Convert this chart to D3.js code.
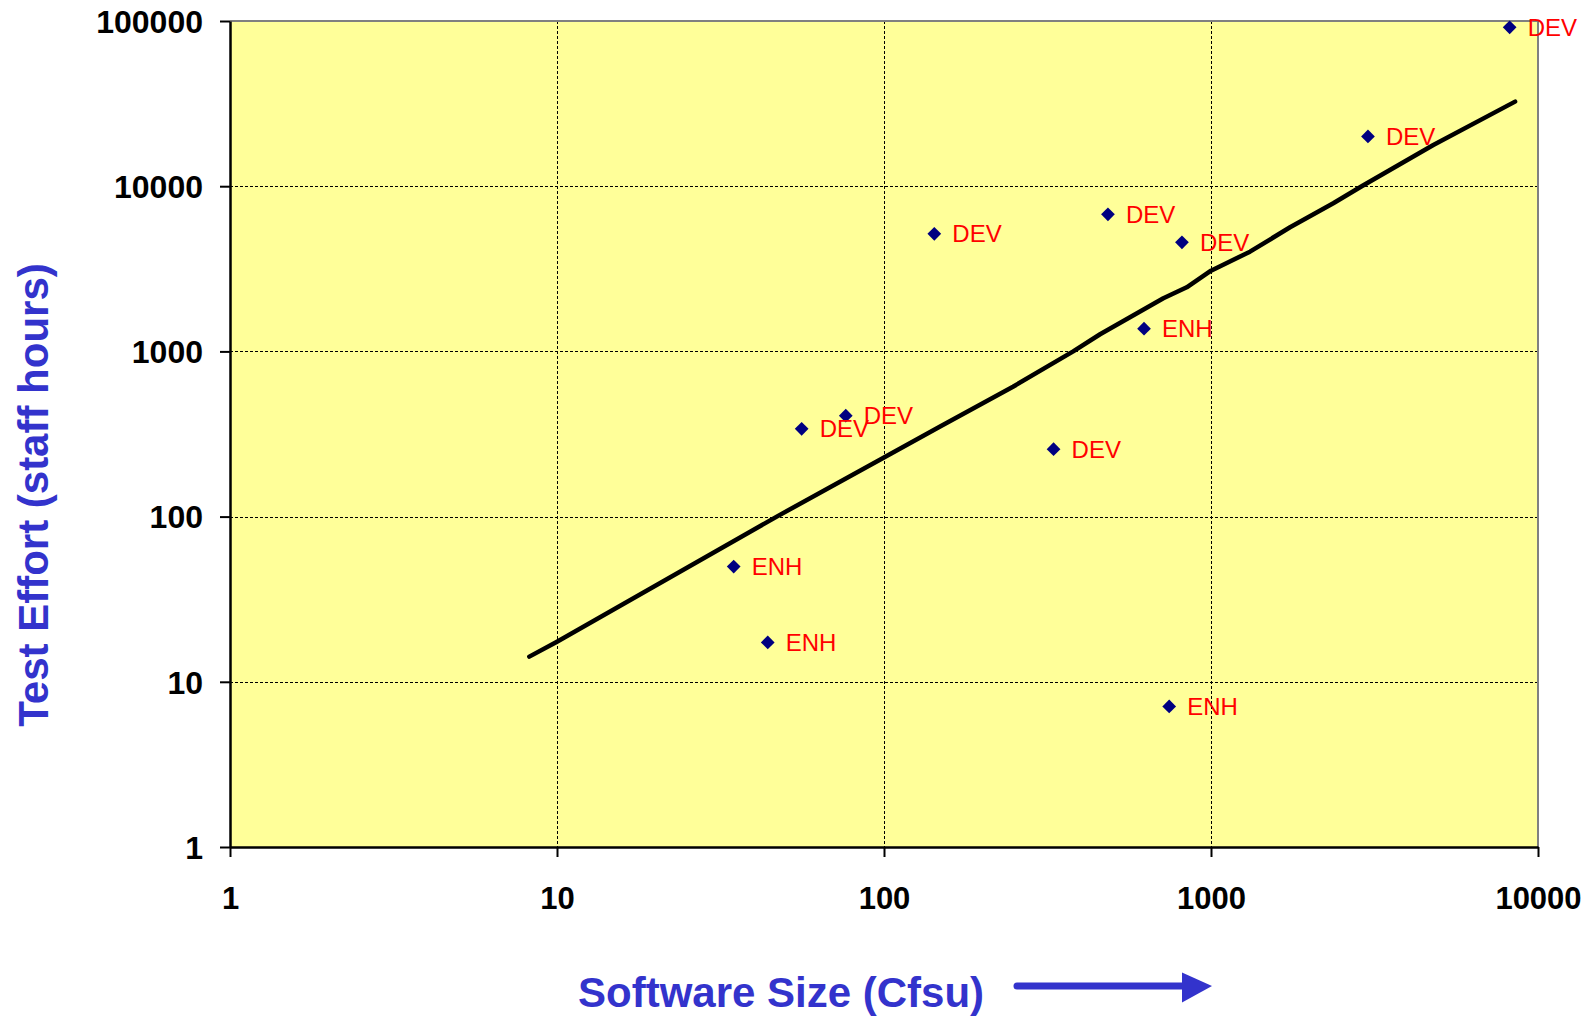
<!DOCTYPE html>
<html>
<head>
<meta charset="utf-8">
<script src="https://cdn.jsdelivr.net/npm/d3@7"></script>
<style>
  html, body { margin: 0; padding: 0; background: #ffffff; }
  svg { display: block; font-family: Arial, "Liberation Sans", sans-serif; }
</style>
</head>
<body>
<svg id="chart" width="1594" height="1016"></svg>
<script>
// Projects: software size (Cfsu) vs. test effort (staff hours)
const projectSizes   = [8190, 3020, 484, 815, 624, 142.5, 76.4, 56, 330, 34.7, 44.1, 745];
const projectEfforts = [91500, 20000, 6760, 4575, 1372, 5150, 408, 340, 256, 49.8, 17.3, 7.09];
const projectTypes   = ["DEV", "DEV", "DEV", "DEV", "ENH", "DEV", "DEV", "DEV", "DEV", "ENH", "ENH", "ENH"];

// Fitted trend curve, sampled along its length
const trendSizes   = [8.23, 10, 47, 100, 148, 248, 379, 458, 715, 843, 1000, 1316, 1745, 2366, 2890, 4785, 8510];
const trendEfforts = [14.2, 17.5, 100, 228, 350, 611, 1000, 1270, 2096, 2444, 3080, 4015, 5640, 7880, 10000, 17750, 32500];

// Axis ticks
const xTickValues = [1, 10, 100, 1000, 10000];
const yTickValues = [1, 10, 100, 1000, 10000, 100000];

const xTitle = "Software Size (Cfsu)";
const yTitle = "Test Effort (staff hours)";

const plot = { left: 230, right: 1538, top: 21, bottom: 847 };
const titleBlue = "#3333cc";

const svg = d3.select("#chart");

const x = d3.scaleLog().domain([1, 10000]).range([plot.left, plot.right]);
const y = d3.scaleLog().domain([1, 100000]).range([plot.bottom, plot.top]);

// Plot background
svg.append("rect")
  .attr("x", plot.left).attr("y", plot.top)
  .attr("width", plot.right - plot.left).attr("height", plot.bottom - plot.top)
  .attr("fill", "#ffff99");

// Grid lines (inner decades only)
const grid = svg.append("g").attr("stroke", "#000").attr("stroke-width", 1)
  .attr("stroke-dasharray", "3,2");
grid.selectAll("line.gx")
  .data(xTickValues.filter(v => v > 1 && v < 10000))
  .join("line").attr("class", "gx")
  .attr("x1", d => Math.round(x(d)) + 0.5).attr("x2", d => Math.round(x(d)) + 0.5)
  .attr("y1", plot.top).attr("y2", plot.bottom);
grid.selectAll("line.gy")
  .data(yTickValues.filter(v => v > 1 && v < 100000))
  .join("line").attr("class", "gy")
  .attr("y1", d => Math.round(y(d)) + 0.5).attr("y2", d => Math.round(y(d)) + 0.5)
  .attr("x1", plot.left).attr("x2", plot.right);

// Gray frame on top and right
svg.append("path")
  .attr("d", `M${plot.left},${plot.top}H${plot.right}V${plot.bottom}`)
  .attr("fill", "none").attr("stroke", "#808080").attr("stroke-width", 2);

// Axes
const xAxis = d3.axisBottom(x).tickValues(xTickValues).tickFormat(d3.format("d"))
  .tickSizeInner(10).tickSizeOuter(0).tickPadding(30);
const yAxis = d3.axisLeft(y).tickValues(yTickValues).tickFormat(d3.format("d"))
  .tickSizeInner(10).tickSizeOuter(0).tickPadding(17);

const gx = svg.append("g").attr("transform", `translate(0,${plot.bottom})`).call(xAxis);
const gy = svg.append("g").attr("transform", `translate(${plot.left},0)`).call(yAxis);

[gx, gy].forEach(g => {
  g.select(".domain").attr("stroke", "#000").attr("stroke-width", 2.5);
  g.selectAll(".tick line").attr("stroke", "#000").attr("stroke-width", 2);
  g.selectAll(".tick text")
    .attr("fill", "#000")
    .attr("font-family", "Arial, 'Liberation Sans', sans-serif")
    .attr("font-weight", "bold")
    .attr("font-size", 31);
});
gx.selectAll(".tick text").attr("dy", "0.71em");
gy.selectAll(".tick text").attr("dy", "0.35em").attr("font-size", 32);

// Trend line
const line = d3.line()
  .x((d, i) => x(trendSizes[i]))
  .y((d, i) => y(trendEfforts[i]));
svg.append("path")
  .datum(trendSizes)
  .attr("d", line)
  .attr("fill", "none")
  .attr("stroke", "#000")
  .attr("stroke-width", 4.5)
  .attr("stroke-linejoin", "round")
  .attr("stroke-linecap", "round");

// Project markers
const diamond = d3.symbol().type(d3.symbolDiamond2).size(120);
svg.append("g").selectAll("path")
  .data(projectSizes)
  .join("path")
  .attr("transform", (d, i) => `translate(${x(d)},${y(projectEfforts[i])})`)
  .attr("d", diamond)
  .attr("fill", "#000080");

// Project type labels
svg.append("g").selectAll("text")
  .data(projectSizes)
  .join("text")
  .attr("x", d => x(d) + 18)
  .attr("y", (d, i) => y(projectEfforts[i]) + 8.5)
  .attr("fill", "#ff0000")
  .attr("font-size", 24)
  .text((d, i) => projectTypes[i]);

// Axis titles
svg.append("text")
  .attr("x", 578).attr("y", 1007)
  .attr("fill", titleBlue)
  .attr("font-weight", "bold")
  .attr("font-size", 42)
  .text(xTitle);

svg.append("text")
  .attr("transform", "translate(48,495) rotate(-90)")
  .attr("text-anchor", "middle")
  .attr("fill", titleBlue)
  .attr("font-weight", "bold")
  .attr("font-size", 42)
  .text(yTitle);

// Direction arrow after the x title
svg.append("line")
  .attr("x1", 1017).attr("x2", 1185)
  .attr("y1", 986).attr("y2", 986)
  .attr("stroke", titleBlue).attr("stroke-width", 7)
  .attr("stroke-linecap", "round");
svg.append("path")
  .attr("d", "M1182,972.5L1212,986L1182,1002.5Z")
  .attr("fill", titleBlue);
</script>
</body>
</html>
